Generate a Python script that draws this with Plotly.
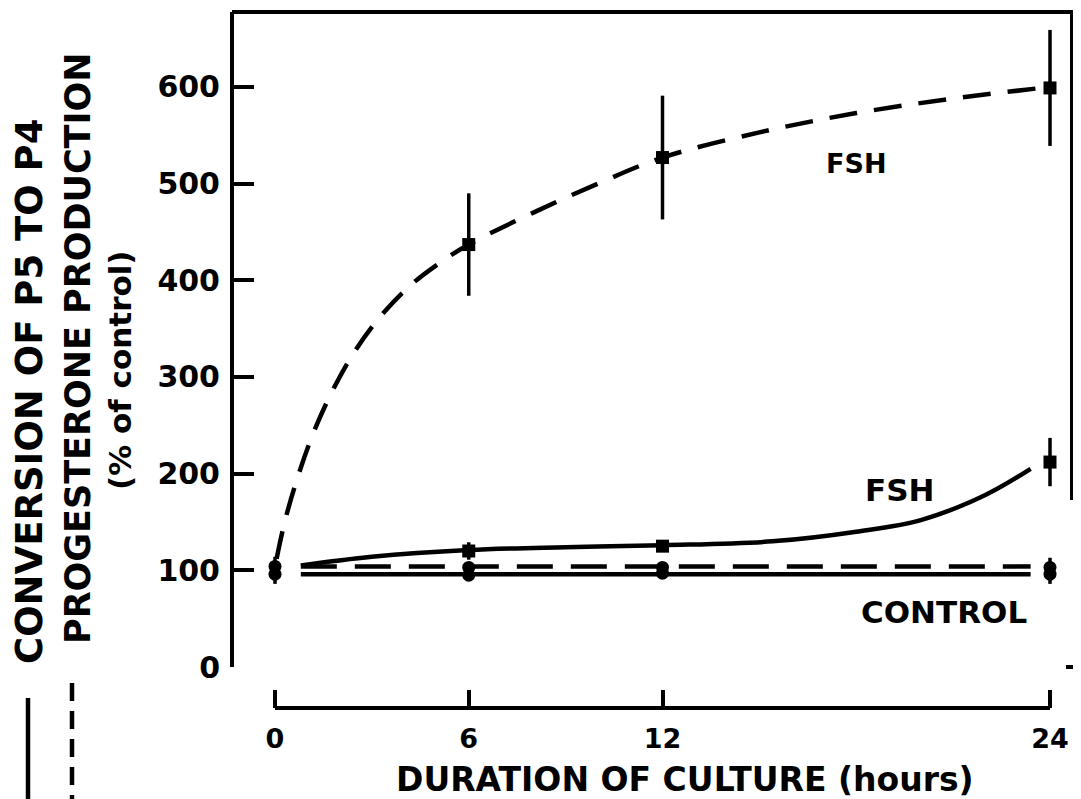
import plotly.graph_objects as go

# ---------------- data ----------------
hours_ticks = [0, 6, 12, 24]
tick_text = ["0", "6", "12", "24"]
y_ticks = [0, 100, 200, 300, 400, 500, 600]

# FSH, progesterone production (dashed)
fsh_prog_h = [6, 12, 24]
fsh_prog = [437, 527, 599]
fsh_prog_err = [53, 64, 60]
fsh_prog_curve_h = [0.05, 0.3, 0.7, 1.2, 1.8, 2.5, 3.3, 4.2, 5.1, 6, 8, 10, 12, 15, 18, 21, 24]
fsh_prog_curve = [112, 150, 196, 243, 287, 328, 364, 395, 418, 437, 470, 500, 527, 553, 573, 588, 600]

# FSH, conversion of P5 to P4 (solid)
fsh_conv_h = [6, 12, 24]
fsh_conv = [120, 125, 212]
fsh_conv_err = [9, 0, 25]
fsh_conv_curve_h = [0.8, 3, 6, 9, 12, 15.4, 18, 20, 22, 23.4]
fsh_conv_curve = [105, 114, 121, 124, 126, 130, 140, 152, 178, 205]

# Control
control_h = [0, 6, 12, 24]
control_prog = [104, 103, 103, 103]
control_conv = [96, 95, 97, 96]
control_err = [10, 0, 0, 10]
control_line_h = [0.8, 23.4]
control_prog_line = [104, 104]
control_conv_line = [96, 96]

# ---------------- geometry helpers ----------------
# the page body adds an 8px offset; coordinates below are page pixels
OFF = 8
W_FIG, H_FIG = 1081, 799
PLOT_L, PLOT_R, PLOT_T, PLOT_B = 234, 1072, 12, 760  # page pixels
L = PLOT_L - OFF
T = PLOT_T - OFF
R = W_FIG - (PLOT_R - OFF)
B = H_FIG - (PLOT_B - OFF)
PW = PLOT_R - PLOT_L
PH = PLOT_B - PLOT_T


def px_x(px):
    return (px - PLOT_L) / PW


def px_y(py):
    return (PLOT_B - py) / PH


BLACK = "black"
LW = 4.5
FONT = "DejaVu Sans"

fig = go.Figure()

# curves
fig.add_trace(go.Scatter(x=fsh_prog_curve_h, y=fsh_prog_curve, mode="lines",
                         line=dict(color=BLACK, width=LW, dash="28px,17px", shape="spline",
                                   smoothing=1.0),
                         hoverinfo="skip"))
fig.add_trace(go.Scatter(x=fsh_conv_curve_h, y=fsh_conv_curve, mode="lines",
                         line=dict(color=BLACK, width=LW, shape="spline"), hoverinfo="skip"))
fig.add_trace(go.Scatter(x=control_line_h, y=control_prog_line, mode="lines",
                         line=dict(color=BLACK, width=LW, dash="36px,18px"), hoverinfo="skip"))
fig.add_trace(go.Scatter(x=control_line_h, y=control_conv_line, mode="lines",
                         line=dict(color=BLACK, width=LW), hoverinfo="skip"))

# markers with error bars
err_style = dict(type="data", thickness=3.5, width=0, color=BLACK)
fig.add_trace(go.Scatter(x=control_h, y=control_prog, mode="markers",
                         marker=dict(symbol="circle", size=13, color=BLACK),
                         error_y=dict(array=control_err, **err_style)))
fig.add_trace(go.Scatter(x=control_h, y=control_conv, mode="markers",
                         marker=dict(symbol="circle", size=13, color=BLACK),
                         error_y=dict(array=control_err, **err_style)))
fig.add_trace(go.Scatter(x=fsh_prog_h, y=fsh_prog, mode="markers",
                         marker=dict(symbol="square", size=13, color=BLACK),
                         error_y=dict(array=fsh_prog_err, **err_style)))
fig.add_trace(go.Scatter(x=fsh_conv_h, y=fsh_conv, mode="markers",
                         marker=dict(symbol="square", size=13, color=BLACK),
                         error_y=dict(array=fsh_conv_err, **err_style)))

# axes
x0_px, x24_px = 275, 1050
scale = (x24_px - x0_px) / 24.0
xr = [(PLOT_L - x0_px) / scale, (PLOT_R - x0_px) / scale]
y0_px, y_scale = 667, 0.9667
y_top = (y0_px - PLOT_T) / y_scale

fig.update_xaxes(range=xr, anchor="free", position=px_y(708), showgrid=False, zeroline=False,
                 showline=False, ticks="inside", ticklen=18, tickwidth=4, tickcolor=BLACK,
                 tickvals=hours_ticks, ticktext=tick_text,
                 tickfont=dict(family=FONT, size=27, color=BLACK, weight="bold"),
                 ticklabelstandoff=12)
fig.update_yaxes(range=[0, y_top], domain=[px_y(y0_px), 1], showgrid=False, zeroline=False,
                 showline=True, linewidth=4, linecolor=BLACK,
                 ticks="inside", ticklen=20, tickwidth=4, tickcolor=BLACK,
                 tickvals=y_ticks,
                 tickfont=dict(family=FONT, size=30, color=BLACK, weight="bold"),
                 ticklabelstandoff=4)

shapes = []
line_style = dict(color=BLACK, width=4)
# x axis baseline (0..24)
shapes.append(dict(type="line", xref="x", yref="paper", x0=0, x1=24,
                   y0=px_y(708), y1=px_y(708), line=line_style))
# top frame
shapes.append(dict(type="line", xref="paper", yref="paper", x0=px_x(232), x1=px_x(1074),
                   y0=px_y(12), y1=px_y(12), line=line_style))
# right frame (partial)
shapes.append(dict(type="line", xref="paper", yref="paper", x0=px_x(1072), x1=px_x(1072),
                   y0=px_y(12), y1=px_y(500), line=line_style))
# right zero tick
shapes.append(dict(type="line", xref="paper", yref="paper", x0=px_x(1066), x1=px_x(1081),
                   y0=px_y(667), y1=px_y(667), line=line_style))
# legend keys at bottom left
shapes.append(dict(type="line", xref="paper", yref="paper", x0=px_x(28), x1=px_x(28),
                   y0=px_y(698), y1=px_y(799), line=dict(color=BLACK, width=4.5)))
shapes.append(dict(type="line", xref="paper", yref="paper", x0=px_x(72), x1=px_x(72),
                   y0=px_y(683), y1=px_y(799), line=dict(color=BLACK, width=4.5, dash="18px,10px")))

annotations = []


def ann_px(text, x, y, size, angle=0):
    annotations.append(dict(text=text, xref="paper", yref="paper", x=px_x(x), y=px_y(y),
                            xanchor="center", yanchor="middle", showarrow=False, textangle=angle,
                            font=dict(family=FONT, size=size, color=BLACK, weight="bold")))


ann_px("CONVERSION OF P5 TO P4", 29, 392, 37, -90)
ann_px("PROGESTERONE PRODUCTION", 78, 348, 35, -90)
ann_px("(% of control)", 120, 370, 31, -90)
ann_px("DURATION OF CULTURE (hours)", 685, 779, 33)


def ann_data(text, x, y, size):
    annotations.append(dict(text=text, xref="x", yref="y", x=x, y=y, xanchor="center",
                            yanchor="middle", showarrow=False,
                            font=dict(family=FONT, size=size, color=BLACK, weight="bold")))


ann_data("FSH", (856 - x0_px) / scale, (667 - 163) / y_scale, 27)
ann_data("FSH", (899 - x0_px) / scale, (667 - 490) / y_scale, 31)
ann_data("CONTROL", (944 - x0_px) / scale, (667 - 612) / y_scale, 31)

fig.update_layout(width=W_FIG, height=H_FIG, margin=dict(l=L, r=R, t=T, b=B),
                  plot_bgcolor="white", paper_bgcolor="white", showlegend=False,
                  shapes=shapes, annotations=annotations,
                  font=dict(family=FONT, color=BLACK))

fig.write_html("out.html")
